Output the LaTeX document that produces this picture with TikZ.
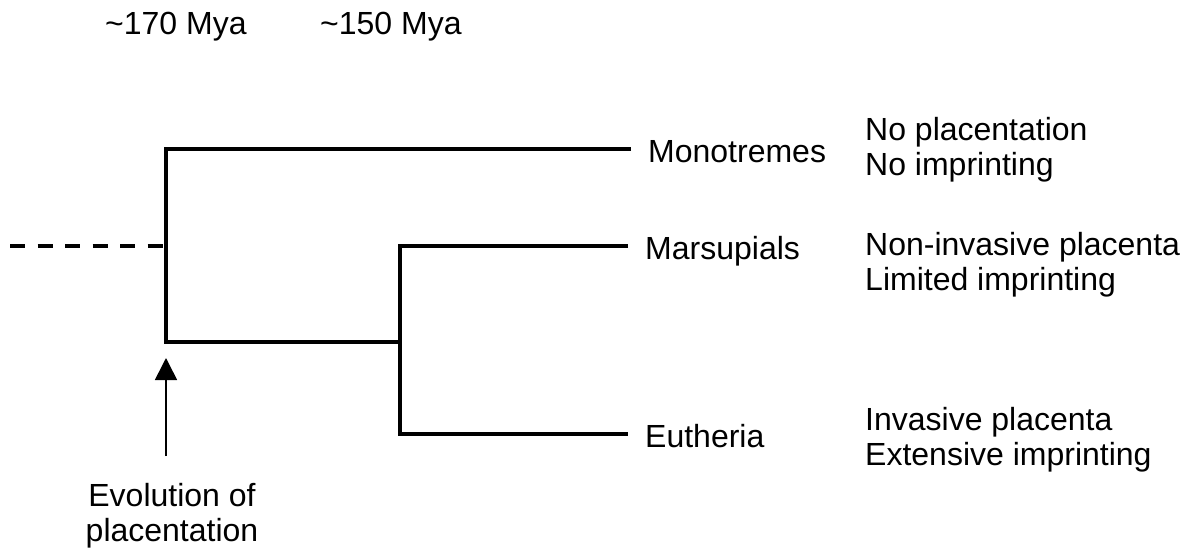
\documentclass[tikz,border=0pt]{standalone}
\usepackage{fontspec}
\setmainfont{Liberation Sans}
\usetikzlibrary{arrows.meta}

\tikzset{
  lbl/.style={font=\fontsize{32}{35}\selectfont, inner sep=0pt},
  taxon/.style={lbl, anchor=west, inner xsep=17pt, text height=26pt, text depth=0pt},
  trait/.style={lbl, anchor=base west},
  branch/.style={line width=3.3pt, line join=miter},
  stem/.style={line width=3.6pt, dash pattern=on 15pt off 12.5pt},
  evoarrow/.style={line width=1.6pt, -{Triangle[width=22pt,length=22pt]}}
}

\begin{document}
\begin{tikzpicture}[x=1pt,y=-1pt]
  \useasboundingbox (0,0) rectangle (1191,551);

  % time scale
  \node[trait] (t170) at (105,35) {\textasciitilde170 Mya};
  \node[trait] (t150) at (320,35) {\textasciitilde150 Mya};

  % junctions of the tree
  \coordinate (rt) at (166,149);
  \coordinate (rs) at (166,246);
  \coordinate (rb) at (166,342);
  \coordinate (it) at (400,246);
  \coordinate (im) at (400,342);
  \coordinate (ib) at (400,434);
  \coordinate (stemend) at (10,246);
  \coordinate (tip) at (166,358);

  % taxa
  \node[taxon] (mono) at (631,149) {Monotremes};
  \node[taxon] (mars) at (628,246) {Marsupials};
  \node[taxon] (euth) at (628,434) {Eutheria};

  % traits
  \node[trait] (mono1) at (865,140) {No placentation};
  \node[trait] (mono2) at (865,175) {No imprinting};
  \node[trait] (mars1) at (865,255) {Non-invasive placenta};
  \node[trait] (mars2) at (865,290) {Limited imprinting};
  \node[trait] (euth1) at (865,430) {Invasive placenta};
  \node[trait] (euth2) at (865,465) {Extensive imprinting};

  % branches
  \draw[stem] (stemend) -- (rs);
  \draw[branch] (mono.west) -- (rt) -- (rb) -- (im);
  \draw[branch] (mars.west) -- (it) -- (ib) -- (euth.west);

  % origin of placentation
  \node[lbl, align=center, anchor=north, inner ysep=27pt] (evo) at (172,456)
    {Evolution of\\placentation};
  \draw[evoarrow] (evo.north -| tip) -- (tip);
\end{tikzpicture}
\end{document}
